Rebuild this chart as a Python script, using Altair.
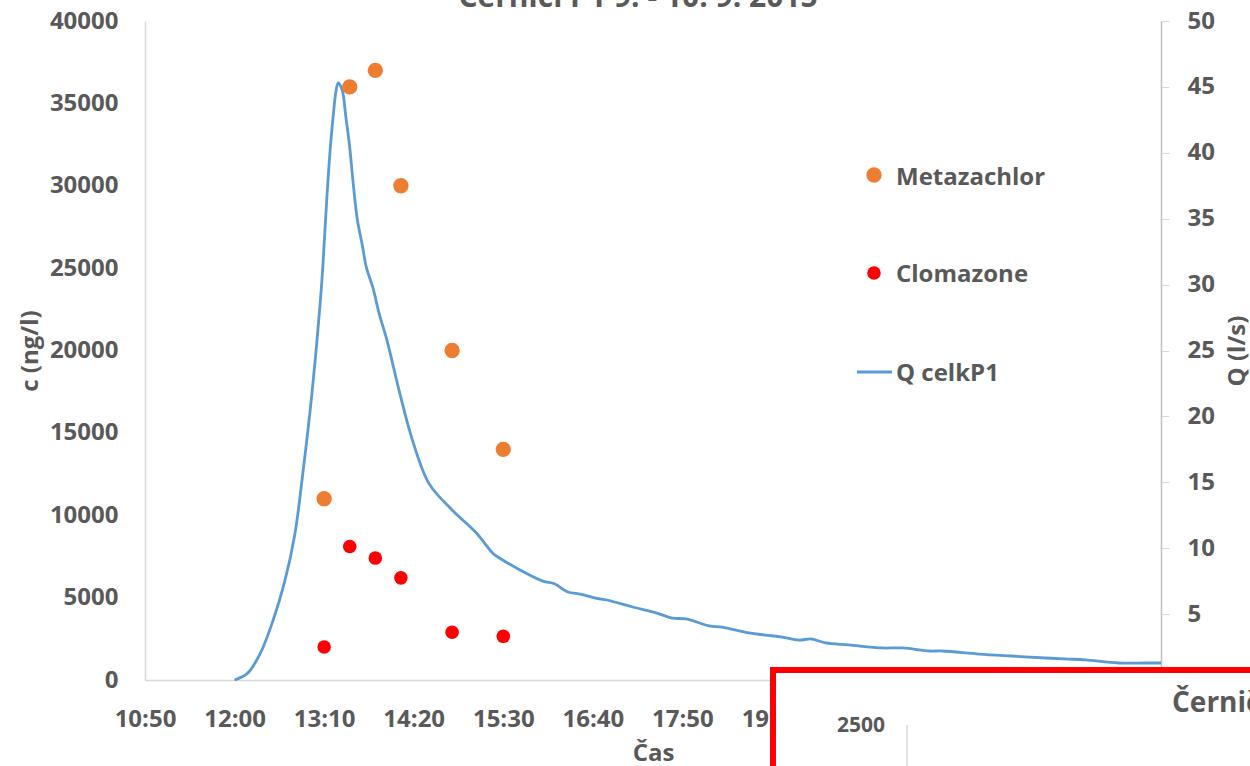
import altair as alt
import pandas as pd

# ---------------- data ----------------
# discharge Q celkP1 (time in minutes after midnight, Q in l/s)
q_time = [720, 730, 740, 750, 759, 767, 773, 779, 784, 787, 789, 792, 795, 797, 799,
          801, 804, 807, 810, 813, 816, 820, 823, 828, 833, 839, 849, 859, 872, 890,
          909, 922, 927, 943, 961, 970, 980, 991, 1003, 1011, 1031, 1050, 1062, 1073,
          1091, 1101, 1122, 1135, 1148, 1161, 1171, 1182, 1200, 1226, 1242, 1263, 1273,
          1302, 1327, 1354, 1372, 1385, 1411, 1432, 1444]
q_value = [0.0, 0.5, 2.0, 4.5, 7.4, 11.0, 15.4, 20.4, 25.3, 28.7, 31.4, 36.4, 40.6, 42.7, 44.5,
           45.3, 44.8, 42.7, 40.4, 37.4, 34.9, 32.9, 31.3, 29.8, 27.8, 25.8, 21.8, 18.2, 14.9, 12.9,
           11.15, 9.6, 9.26, 8.35, 7.5, 7.3, 6.7, 6.5, 6.2, 6.07, 5.54, 5.08, 4.7, 4.63,
           4.1, 4.02, 3.57, 3.41, 3.26, 3.03, 3.11, 2.81, 2.66, 2.43, 2.43, 2.2, 2.2,
           1.97, 1.82, 1.67, 1.59, 1.52, 1.29, 1.29, 1.29]

sample_time = [790, 810, 830, 850, 890, 930]
metazachlor = [11000, 36000, 37000, 30000, 20000, 14000]
clomazone = [2000, 8100, 7400, 6200, 2900, 2650]

series_names = ["Metazachlor", "Clomazone", "Q celkP1"]
series_colors = ["#ED7D31", "#FF0000", "#5B9BD5"]

x_ticks = [650, 720, 790, 860, 930, 1000, 1070, 1140, 1210, 1280, 1350, 1420]
c_ticks = [0, 5000, 10000, 15000, 20000, 25000, 30000, 35000, 40000]
q_ticks = [0, 5, 10, 15, 20, 25, 30, 35, 40, 45, 50]

title_text = "Černičí P1 9. - 10. 9. 2015"
inset_label = "2500"
inset_title = "Černičí"

# ---------------- styling ----------------
FONT = "Open Sans"
GREY = "#595959"
W, H = 1016, 659

q_df = pd.DataFrame({"t": q_time, "Q": q_value})
pts_df = pd.DataFrame({
    "t": sample_time + sample_time,
    "c": metazachlor + clomazone,
    "series": [series_names[0]] * len(sample_time) + [series_names[1]] * len(sample_time),
})
one = pd.DataFrame({"k": [0]})

x_scale = alt.Scale(domain=[650, 1444], nice=False, zero=False)
x_axis = alt.Axis(
    values=x_ticks,
    labelExpr="floor(datum.value / 60) + ':' + (datum.value % 60 < 10 ? '0' : '') + (datum.value % 60)",
    labelFont=FONT, labelFontSize=24, labelFontWeight="bold", labelColor=GREY,
    labelPadding=27, labelFlush=False, labelOverlap=False,
    ticks=False, domainColor="#D9D9D9", domainWidth=1.5, grid=False,
    title="Čas", titleFont=FONT, titleFontSize=24, titleFontWeight="bold", titleColor=GREY,
    titleX=W / 2, titleY=80, titleBaseline="alphabetic", titleAlign="center",
)

line = alt.Chart(q_df).mark_line(color=series_colors[2], strokeWidth=2.8, interpolate="catmull-rom").encode(
    x=alt.X("t:Q", scale=x_scale, axis=x_axis),
    y=alt.Y("Q:Q", scale=alt.Scale(domain=[0, 50], nice=False, zero=True),
            axis=alt.Axis(orient="right", values=q_ticks, format="d",
                          labelFont=FONT, labelFontSize=24, labelFontWeight="bold", labelColor=GREY,
                          labelPadding=18, labelFlush=False, labelOverlap=False,
                          ticks=True, tickSize=8, tickColor="#D9D9D9", domainColor="#BFBFBF",
                          domainWidth=1.5, grid=False,
                          title="Q (l/s)", titleFont=FONT, titleFontSize=24, titleFontWeight="bold",
                          titleColor=GREY, titleAngle=270, titleX=76, titleY=H / 2,
                          titleAlign="center", titleBaseline="middle")),
)

points = alt.Chart(pts_df).mark_circle(opacity=1).encode(
    x=alt.X("t:Q", scale=x_scale, axis=x_axis),
    y=alt.Y("c:Q", scale=alt.Scale(domain=[0, 40000], nice=False),
            axis=alt.Axis(orient="left", values=c_ticks, format="d",
                          labelFont=FONT, labelFontSize=24, labelFontWeight="bold", labelColor=GREY,
                          labelPadding=27, labelFlush=False, labelOverlap=False,
                          ticks=False, domainColor="#D9D9D9", domainWidth=1.5, grid=False,
                          title="c (ng/l)", titleFont=FONT, titleFontSize=24, titleFontWeight="bold",
                          titleColor=GREY, titleAngle=270, titleX=-115, titleY=H / 2,
                          titleAlign="center", titleBaseline="middle")),
    color=alt.Color("series:N", scale=alt.Scale(domain=series_names[:2], range=series_colors[:2]), legend=None),
    size=alt.Size("series:N", scale=alt.Scale(domain=series_names[:2], range=[235, 184]), legend=None),
)

base = alt.layer(line, points).resolve_scale(y="independent")

def txt(label, x, y, size=24, align="left", baseline="middle"):
    return alt.Chart(pd.DataFrame({"label": [label]})).mark_text(
        font=FONT, fontSize=size, fontWeight="bold", color=GREY, align=align, baseline=baseline
    ).encode(text="label:N", x=alt.value(x), y=alt.value(y))

# legend (manual)
leg_dot1 = alt.Chart(one).mark_circle(color=series_colors[0], opacity=1, size=235).encode(
    x=alt.value(729), y=alt.value(154))
leg_dot2 = alt.Chart(one).mark_circle(color=series_colors[1], opacity=1, size=184).encode(
    x=alt.value(729), y=alt.value(252))
leg_line = alt.Chart(one).mark_rule(color=series_colors[2], strokeWidth=2.8).encode(
    x=alt.value(712), x2=alt.value(747), y=alt.value(351))
leg_t1 = txt(series_names[0], 751, 156.5)
leg_t2 = txt(series_names[1], 751, 253.5)
leg_t3 = txt(series_names[2], 751, 352.5)

# chart title (cut off at the top)
title_mark = txt(title_text, 493, -14, size=30, align="center", baseline="alphabetic")

# overlapping second chart frame (red box)
box = alt.Chart(one).mark_rect(fill="white", stroke="#FF0000", strokeWidth=6).encode(
    x=alt.value(628), x2=alt.value(1250), y=alt.value(649), y2=alt.value(820))
box_rule = alt.Chart(one).mark_rule(color="#D9D9D9", strokeWidth=1.5).encode(
    x=alt.value(762), y=alt.value(704), y2=alt.value(820))
box_lab = txt(inset_label, 740, 711, size=21, align="right", baseline="alphabetic")
box_title = txt(inset_title, 1027, 691, size=28, align="left", baseline="alphabetic")

chart = alt.layer(
    base, leg_dot1, leg_dot2, leg_line, leg_t1, leg_t2, leg_t3,
    title_mark, box, box_rule, box_lab, box_title
).properties(
    width=W, height=H,
    autosize=alt.AutoSizeParams(type="none"),
    padding={"left": 145, "top": 21, "right": 89, "bottom": 86},
    background="white",
).configure_view(stroke=None)

chart.save("out.html", embed_options={"renderer": "svg", "actions": False})
